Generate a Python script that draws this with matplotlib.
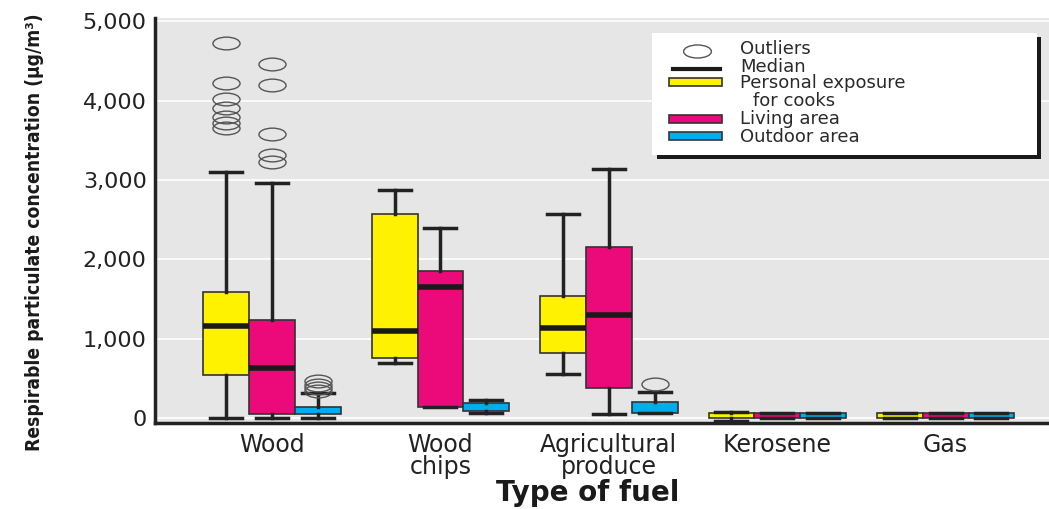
import matplotlib
matplotlib.use('Agg')
import matplotlib.pyplot as plt
from matplotlib import font_manager
from matplotlib.path import Path
from matplotlib.patches import Rectangle
from matplotlib.lines import Line2D

# fuel types on the x axis
fuels = ['Wood', 'Wood\nchips', 'Agricultural\nproduce', 'Kerosene', 'Gas']
series_names = ['Personal exposure\nfor cooks', 'Living area', 'Outdoor area']
series_colors = ['#fff200', '#ec0a7a', '#00aeef']

# personal exposure for cooks (ug/m3)
cook_q1 = [540, 750, 815, 0, 5]
cook_med = [1160, 1090, 1140, 30, 35]
cook_q3 = [1590, 2565, 1540, 60, 68]
cook_lo = [0, 695, 555, -35, 5]
cook_hi = [3100, 2870, 2565, 72, 68]
cook_out = [[4720, 4220, 4020, 3900, 3790, 3715, 3650], [], [], [], []]

# living area
living_q1 = [50, 135, 375, 0, 0]
living_med = [635, 1655, 1295, 30, 30]
living_q3 = [1235, 1855, 2150, 60, 60]
living_lo = [0, 135, 50, 0, 0]
living_hi = [2965, 2400, 3135, 60, 60]
living_out = [[4455, 4195, 3575, 3310, 3230], [], [], [], []]

# outdoor area
outdoor_q1 = [45, 90, 58, 0, 0]
outdoor_med = [90, 140, 120, 30, 30]
outdoor_q3 = [140, 185, 200, 60, 60]
outdoor_lo = [0, 65, 58, 0, 0]
outdoor_hi = [310, 225, 330, 60, 60]
outdoor_out = [[460, 420, 380, 345], [], [425], [], []]

yticks = [0, 1000, 2000, 3000, 4000, 5000]

all_series = [
    (cook_q1, cook_med, cook_q3, cook_lo, cook_hi, cook_out),
    (living_q1, living_med, living_q3, living_lo, living_hi, living_out),
    (outdoor_q1, outdoor_med, outdoor_q3, outdoor_lo, outdoor_hi, outdoor_out),
]

names = {f.name for f in font_manager.fontManager.ttflist}
narrow = 'Liberation Sans Narrow' if 'Liberation Sans Narrow' in names else 'DejaVu Sans'

fig = plt.figure(figsize=(10.49, 5.09), dpi=100)
ax = fig.add_axes([155 / 1049, 86 / 509, 894 / 1049, 405 / 509])
ax.set_facecolor('#e6e6e6')

circle = Path.unit_circle()
ellipse = Path(circle.vertices * [1, 0.47], circle.codes)

width = 0.272
for k, (q1, med, q3, lo, hi, out) in enumerate(all_series):
    stats = []
    for i in range(len(fuels)):
        stats.append(dict(q1=q1[i], med=med[i], q3=q3[i], whislo=lo[i],
                          whishi=hi[i], fliers=out[i]))
    pos = [i + (k - 1) * width for i in range(len(fuels))]
    res = ax.bxp(stats, positions=pos, widths=width, capwidths=0.19,
                 patch_artist=True, showfliers=True, manage_ticks=False,
                 boxprops=dict(facecolor=series_colors[k], edgecolor='#333333', linewidth=1.2),
                 whiskerprops=dict(color='#222222', linewidth=2.5),
                 capprops=dict(color='#222222', linewidth=2.5),
                 medianprops=dict(color='#1a1a1a', linewidth=4, solid_capstyle='butt'),
                 flierprops=dict(marker=ellipse, markersize=19.5, markerfacecolor='none',
                                 markeredgecolor='#555555', markeredgewidth=1.0))
    # very short boxes don't show a median bar
    for line, s in zip(res['medians'], stats):
        line.set_visible(s['q3'] - s['q1'] > 250)

ax.set_xlim(-0.695, 4.614)
ax.set_ylim(-63, 5040)
ax.set_yticks(yticks)
ax.set_yticklabels([f'{v:,}' for v in yticks])
ax.set_xticks(range(len(fuels)))
ax.set_xticklabels(fuels)
ax.tick_params(axis='both', length=0, colors='#222222')
ax.tick_params(axis='y', labelsize=16, pad=6)
ax.tick_params(axis='x', labelsize=17, pad=7)
for lbl in ax.get_xticklabels():
    lbl.set_linespacing(0.9)
    lbl.set_va('top')

ax.yaxis.grid(True, color='white', linewidth=1.2)
ax.set_axisbelow(True)
for side in ['top', 'right']:
    ax.spines[side].set_visible(False)
for side in ['left', 'bottom']:
    ax.spines[side].set_linewidth(2.5)
    ax.spines[side].set_color('#222222')

fig.text(588 / 1049, 1 - 493 / 509, 'Type of fuel', fontsize=20, fontweight='bold',
         color='#1a1a1a', ha='center', va='center')

ylab = fig.text(35 / 1049, 1 - 232 / 509, 'Respirable particulate concentration (\u00b5g/m\u00b3)',
                family=narrow, fontstretch='condensed', fontweight='bold', fontsize=16,
                rotation=90, ha='center', va='center', color='#1a1a1a')
fig.canvas.draw()
h = ylab.get_window_extent().height
ylab.set_fontsize(16 * 437 / h)


# legend box drawn in axes fractions from pixel positions
def frac(x, y):
    return (x - 155) / 894, (423 - y) / 405


def rect(x0, y0, x1, y1, **kw):
    fx, fy = frac(x0, y1)
    return Rectangle((fx, fy), (x1 - x0) / 894, (y1 - y0) / 405,
                     transform=ax.transAxes, clip_on=False, **kw)


ax.add_patch(rect(657, 37, 1041, 159, facecolor='#1a1a1a', edgecolor='none', zorder=6))
ax.add_patch(rect(652, 33, 1037, 155, facecolor='white', edgecolor='none', zorder=7))

ex, ey = frac(697, 51)
ax.plot([ex], [ey], marker=ellipse, markersize=20, markerfacecolor='none',
        markeredgecolor='#555555', markeredgewidth=1.0, transform=ax.transAxes,
        clip_on=False, zorder=8)
lx0, ly = frac(673, 69)
lx1, _ = frac(720, 69)
ax.add_line(Line2D([lx0, lx1], [ly, ly], color='#1a1a1a', linewidth=3,
                   transform=ax.transAxes, clip_on=False, zorder=8))
for (y0, y1), c in zip([(78, 86), (115, 123), (132, 140)], series_colors):
    ax.add_patch(rect(669, y0, 722, y1, facecolor=c, edgecolor='#333333',
                      linewidth=1.2, zorder=8))

# legend labels, one row per text line (second cook line is indented)
cook_line1, cook_line2 = series_names[0].split('\n')
legend_rows = [('Outliers', 740, 53.5), ('Median', 740, 71.5), (cook_line1, 740, 88),
               (cook_line2, 753, 106.5), (series_names[1], 740, 124.5),
               (series_names[2], 740, 141.5)]
for label, x, base in legend_rows:
    tx, ty = frac(x, base)
    ax.text(tx, ty, label, transform=ax.transAxes, fontsize=13, color='#2a2a2a',
            ha='left', va='baseline', zorder=9)

fig.savefig('out.png', dpi=100)
